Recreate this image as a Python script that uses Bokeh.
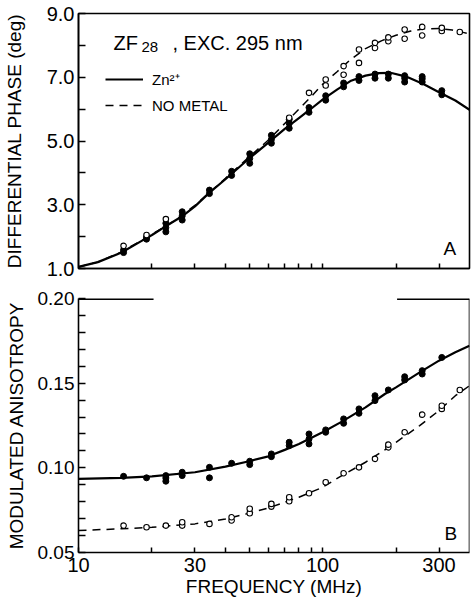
from bokeh.plotting import figure
from bokeh.layouts import column
from bokeh.models import (FixedTicker, PrintfTickFormatter, Label, Legend,
                          LegendItem, Span)
from bokeh.embed import file_html
from bokeh.resources import INLINE

FONT = "Liberation Sans"
X_START, X_END = 10, 400

# ---------------- Panel A: differential phase (deg) ----------------
zn_phase_freq = [15.3, 15.3, 19.0, 19.0, 22.8, 22.8, 22.8, 26.6, 26.6, 26.6,
                 34.4, 34.4, 42.4, 42.4, 50.3, 50.3, 50.3, 61.7, 61.7, 61.7,
                 73.0, 73.0, 73.0, 88.0, 88.0, 103, 103, 122, 122, 141, 141,
                 164, 164, 186, 186, 217, 217, 217, 256, 256, 256, 308, 308]
zn_phase = [1.50, 1.58, 1.92, 1.98, 2.15, 2.28, 2.42, 2.52, 2.65, 2.78,
            3.35, 3.46, 3.92, 4.05, 4.30, 4.45, 4.60, 4.93, 5.05, 5.18,
            5.40, 5.55, 5.68, 5.90, 6.05, 6.28, 6.42, 6.70, 6.82, 6.90, 7.02,
            6.97, 7.10, 6.97, 7.10, 6.85, 6.97, 7.05, 6.85, 6.95, 7.02, 6.45, 6.58]

nm_phase_freq = [15.3, 19.0, 22.8, 73.0, 88.0, 103, 103, 122, 122, 141, 141,
                 164, 164, 186, 186, 217, 217, 256, 256, 308, 308, 365]
nm_phase = [1.71, 2.05, 2.55, 5.73, 6.51, 6.74, 6.93, 7.08, 7.35, 7.45, 7.87,
            7.92, 8.08, 8.13, 8.25, 8.21, 8.50, 8.31, 8.58, 8.45, 8.55, 8.42]

zn_phase_fit_freq = [10, 12, 15, 18, 20, 22.5, 26.5, 30, 34.4, 40, 50, 60, 70,
                     80, 90, 100, 115, 130, 150, 170, 190, 220, 260, 300, 350, 400]
zn_phase_fit = [1.05, 1.20, 1.50, 1.85, 2.05, 2.30, 2.63, 2.95, 3.38, 3.80,
                4.45, 4.95, 5.38, 5.72, 6.02, 6.30, 6.62, 6.88, 7.05, 7.13,
                7.14, 7.02, 6.78, 6.53, 6.27, 5.98]

nm_phase_fit_freq = [10, 12, 15, 20, 25, 30, 40, 50, 60, 70, 80, 90, 100, 115,
                     130, 150, 175, 200, 230, 260, 300, 340, 380, 400]
nm_phase_fit = [1.05, 1.20, 1.52, 2.07, 2.52, 2.98, 3.83, 4.50, 5.03, 5.55,
                6.00, 6.40, 6.78, 7.18, 7.55, 7.90, 8.15, 8.32, 8.45, 8.52,
                8.53, 8.48, 8.40, 8.36]

# ---------------- Panel B: modulated anisotropy ----------------
zn_anis_freq = [15.3, 19.0, 22.8, 22.8, 22.8, 26.6, 26.6, 34.4, 34.4, 42.4,
                50.3, 50.3, 61.7, 61.7, 73.0, 73.0, 88.0, 88.0, 88.0, 103, 103,
                122, 122, 141, 141, 164, 164, 186, 217, 217, 256, 256, 308]
zn_anis = [0.0950, 0.0941, 0.0921, 0.0940, 0.0954, 0.0954, 0.0974, 0.0941,
           0.1003, 0.1027, 0.1019, 0.1039, 0.1066, 0.1082, 0.1131, 0.1151,
           0.1141, 0.1170, 0.1200, 0.1210, 0.1224, 0.1263, 0.1289, 0.1322,
           0.1348, 0.1397, 0.1426, 0.1460, 0.1519, 0.1538, 0.1554, 0.1574, 0.1652]

nm_anis_freq = [15.3, 19.0, 22.8, 26.6, 26.6, 34.4, 42.4, 42.4, 50.3, 50.3,
                61.7, 61.7, 73.0, 73.0, 88.0, 103, 122, 141, 164, 186, 186,
                217, 256, 308, 308, 365]
nm_anis = [0.0659, 0.0649, 0.0659, 0.0659, 0.0679, 0.0669, 0.0689, 0.0708,
           0.0732, 0.0758, 0.0771, 0.0787, 0.0803, 0.0826, 0.0850, 0.0915,
           0.0968, 0.1003, 0.1053, 0.1121, 0.1137, 0.1210, 0.1314, 0.1348,
           0.1367, 0.1460]

anis_fit_freq = [10, 15, 20, 30, 40, 50, 60, 70, 80, 100, 120, 150, 180, 200,
                 250, 300, 350, 400]
zn_anis_fit = [0.0935, 0.0941, 0.0949, 0.0974, 0.1007, 0.1039, 0.1068, 0.1106,
               0.1141, 0.1210, 0.1273, 0.1357, 0.1436, 0.1475, 0.1564, 0.1633,
               0.1682, 0.1721]
nm_anis_fit = [0.0630, 0.0640, 0.0649, 0.0669, 0.0698, 0.0732, 0.0763, 0.0797,
               0.0826, 0.0885, 0.0954, 0.1033, 0.1106, 0.1151, 0.1249, 0.1338,
               0.1426, 0.1485]

# tick definitions
freq_ticks = [10, 30, 100, 300]
freq_minor = [20, 40, 50, 60, 70, 80, 90, 200]
phase_ticks = [1, 3, 5, 7, 9]
phase_minor = [2, 4, 6, 8]
anis_ticks = [0.05, 0.10, 0.15, 0.20]
anis_minor = [0.06, 0.07, 0.08, 0.09, 0.11, 0.12, 0.13, 0.14,
              0.16, 0.17, 0.18, 0.19]
# partly missing upper frame edge of panel B (frequency spans)
top_edge_start = [X_START, 202]
top_edge_end = [20.3, X_END]

DASH = "8 6"


def base_style(p):
    p.grid.visible = False
    p.background_fill_color = "white"
    p.border_fill_color = "white"
    for ax in (p.xaxis[0], p.yaxis[0]):
        ax.axis_line_color = "black"
        ax.axis_line_width = 1.6
        ax.major_tick_line_color = "black"
        ax.minor_tick_line_color = "black"
        ax.major_tick_line_width = 1.5
        ax.minor_tick_line_width = 1.5
        ax.major_tick_out = 0
        ax.minor_tick_out = 0
        ax.major_label_text_font = FONT
        ax.major_label_text_color = "black"
        ax.axis_label_text_font = FONT
        ax.axis_label_text_font_style = "normal"
        ax.axis_label_text_color = "black"
    p.xaxis.major_tick_in = 5
    p.xaxis.minor_tick_in = 5
    p.yaxis.major_tick_in = 7
    p.yaxis.minor_tick_in = 7


# ---------------- figure A ----------------
p1 = figure(width=474, height=283, x_axis_type="log",
            x_range=(X_START, X_END), y_range=(1.0, 9.0),
            output_backend="svg", toolbar_location=None,
            min_border_left=78, min_border_right=5,
            min_border_top=13, min_border_bottom=15)
base_style(p1)
p1.outline_line_color = "black"
p1.outline_line_width = 1.6

p1.xaxis.ticker = FixedTicker(ticks=[], minor_ticks=sorted(freq_ticks[1:] + freq_minor))
p1.yaxis.ticker = FixedTicker(ticks=phase_ticks, minor_ticks=phase_minor)
p1.yaxis.formatter = PrintfTickFormatter(format="%.1f")
p1.yaxis.major_label_text_font_size = "20px"
p1.yaxis.major_label_standoff = 4
p1.yaxis.axis_label = "DIFFERENTIAL PHASE (deg)"
p1.yaxis.axis_label_text_font_size = "19px"
p1.yaxis.axis_label_standoff = 19

r_zn = p1.line(zn_phase_fit_freq, zn_phase_fit, line_color="black", line_width=2.2)
r_nm = p1.line(nm_phase_fit_freq, nm_phase_fit, line_color="black", line_width=1.5,
               line_dash=DASH)
p1.scatter(zn_phase_freq, zn_phase, marker="circle", size=6,
           fill_color="black", line_color="black")
p1.scatter(nm_phase_freq, nm_phase, marker="circle", size=5.5,
           fill_color="white", line_color="black", line_width=1.1)

legend = Legend(items=[LegendItem(label="Zn²⁺", renderers=[r_zn]),
                       LegendItem(label="NO METAL", renderers=[r_nm])],
                location=(27, 153), orientation="vertical",
                border_line_color=None, background_fill_alpha=0,
                padding=0, margin=0, spacing=6,
                glyph_width=38, glyph_height=20, label_height=20,
                label_standoff=9, label_text_font=FONT,
                label_text_font_size="15px", label_text_color="black")
p1.add_layout(legend)

title_style = dict(x_units="screen", y_units="screen", text_font=FONT,
                   text_color="black", text_baseline="alphabetic")
p1.add_layout(Label(x=35, y=225.7, text="ZF", text_font_size="20px", **title_style))
p1.add_layout(Label(x=63, y=221.5, text="28", text_font_size="15px", **title_style))
p1.add_layout(Label(x=94, y=225.7, text=", EXC. 295 nm", text_font_size="20px",
                    **title_style))
p1.add_layout(Label(x=365, y=19.7, text="A", text_font_size="19px", **title_style))

# ---------------- figure B ----------------
p2 = figure(width=474, height=325, x_axis_type="log",
            x_range=(X_START, X_END), y_range=(0.05, 0.20),
            output_backend="svg", toolbar_location=None,
            min_border_left=78, min_border_right=5,
            min_border_top=15, min_border_bottom=56)
base_style(p2)
p2.outline_line_color = None

p2.xaxis.ticker = FixedTicker(ticks=freq_ticks, minor_ticks=freq_minor)
p2.xaxis.formatter = PrintfTickFormatter(format="%d")
p2.xaxis.major_label_text_font_size = "20px"
p2.xaxis.major_label_standoff = 5
p2.xaxis.axis_label = "FREQUENCY (MHz)"
p2.xaxis.axis_label_text_font_size = "19px"
p2.xaxis.axis_label_standoff = 1

p2.yaxis.ticker = FixedTicker(ticks=anis_ticks, minor_ticks=anis_minor)
p2.yaxis.formatter = PrintfTickFormatter(format="%.2f")
p2.yaxis.major_label_text_font_size = "19px"
p2.yaxis.major_label_standoff = 4
p2.yaxis.axis_label = "MODULATED ANISOTROPY"
p2.yaxis.axis_label_text_font_size = "19px"
p2.yaxis.axis_label_standoff = 8

p2.add_layout(Span(location=X_END, dimension="height", line_color="black",
                   line_width=1.6))
p2.segment(x0=top_edge_start, y0=[anis_ticks[-1]] * 2, x1=top_edge_end,
           y1=[anis_ticks[-1]] * 2, line_color="black", line_width=3)

p2.line(anis_fit_freq, zn_anis_fit, line_color="black", line_width=2.2)
p2.line(anis_fit_freq, nm_anis_fit, line_color="black", line_width=1.5,
        line_dash=DASH)
p2.scatter(zn_anis_freq, zn_anis, marker="circle", size=6,
           fill_color="black", line_color="black")
p2.scatter(nm_anis_freq, nm_anis, marker="circle", size=5.5,
           fill_color="white", line_color="black", line_width=1.1)
p2.add_layout(Label(x=366, y=18.7, text="B", text_font_size="19px", **title_style))

layout = column(p1, p2, spacing=0)
open("out.html", "w").write(file_html(layout, INLINE))
